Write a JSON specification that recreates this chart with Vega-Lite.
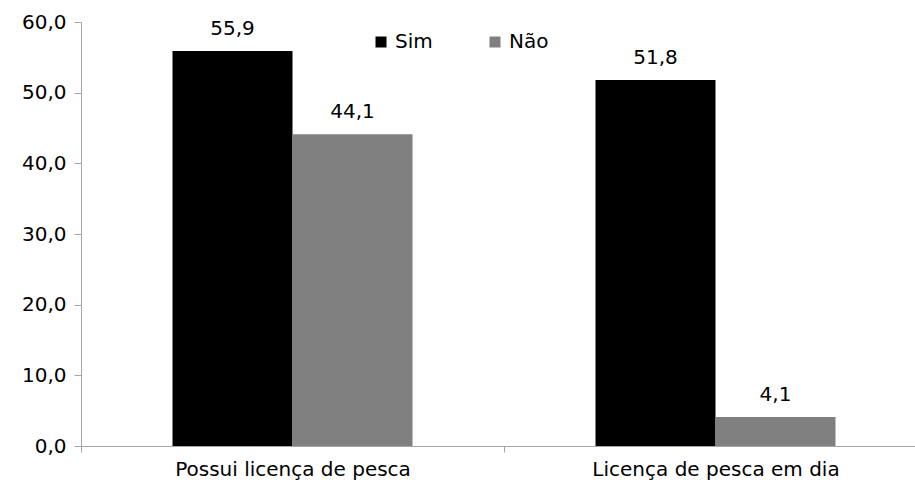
{
  "$schema": "https://vega.github.io/schema/vega-lite/v6.json",
  "width": 846,
  "height": 424,
  "autosize": {"type": "none"},
  "padding": {"left": 81, "top": 22, "right": 0, "bottom": 42},
  "background": "white",
  "config": {
    "locale": {"number": {"decimal": ",", "thousands": ".", "grouping": [3], "currency": ["R$", ""]}},
    "view": {"stroke": null},
    "font": "DejaVu Sans"
  },
  "data": {
    "values": [
      {"categoria": "Possui licença de pesca", "resposta": "Sim", "valor": 55.9},
      {"categoria": "Possui licença de pesca", "resposta": "Não", "valor": 44.1},
      {"categoria": "Licença de pesca em dia", "resposta": "Sim", "valor": 51.8},
      {"categoria": "Licença de pesca em dia", "resposta": "Não", "valor": 4.1}
    ]
  },
  "encoding": {
    "x": {
      "field": "categoria", "type": "nominal", "sort": null,
      "scale": {"paddingInner": 0, "paddingOuter": 0},
      "axis": {
        "title": null, "labelAngle": 0, "tickBand": "extent", "labelLimit": 500,
        "domainColor": "#a6a6a6", "tickColor": "#a6a6a6", "tickSize": 6,
        "labelFont": "DejaVu Sans", "labelFontSize": 20, "labelColor": "#000000", "labelPadding": 7
      }
    },
    "xOffset": {
      "field": "resposta", "type": "nominal", "sort": ["Sim", "Não"],
      "scale": {"paddingInner": 0, "paddingOuter": 0.7625}
    },
    "y": {
      "field": "valor", "type": "quantitative",
      "scale": {"domain": [0, 60], "nice": false},
      "axis": {
        "title": null, "grid": false, "values": [0, 10, 20, 30, 40, 50, 60], "labelOverlap": false,
        "format": ".1f", "domainColor": "#a6a6a6", "tickColor": "#a6a6a6", "tickSize": 7,
        "labelFont": "DejaVu Sans", "labelFontSize": 20, "labelColor": "#000000", "labelPadding": 8
      }
    }
  },
  "layer": [
    {
      "mark": {"type": "bar"},
      "encoding": {
        "color": {
          "field": "resposta", "type": "nominal", "sort": ["Sim", "Não"],
          "scale": {"domain": ["Sim", "Não"], "range": ["#000000", "#808080"]},
          "legend": {
            "title": null, "orient": "none", "direction": "horizontal",
            "legendX": 290, "legendY": 10, "symbolType": "square", "symbolSize": 121,
            "symbolStrokeWidth": 0, "labelFont": "DejaVu Sans", "labelFontSize": 20, "labelColor": "#000000",
            "columnPadding": 52, "labelOffset": 4
          }
        }
      }
    },
    {
      "mark": {"type": "text", "dy": -12, "fontSize": 20, "font": "DejaVu Sans", "color": "#000000", "baseline": "bottom"},
      "encoding": {
        "text": {"field": "valor", "type": "quantitative", "format": ".1f"}
      }
    }
  ]
}
